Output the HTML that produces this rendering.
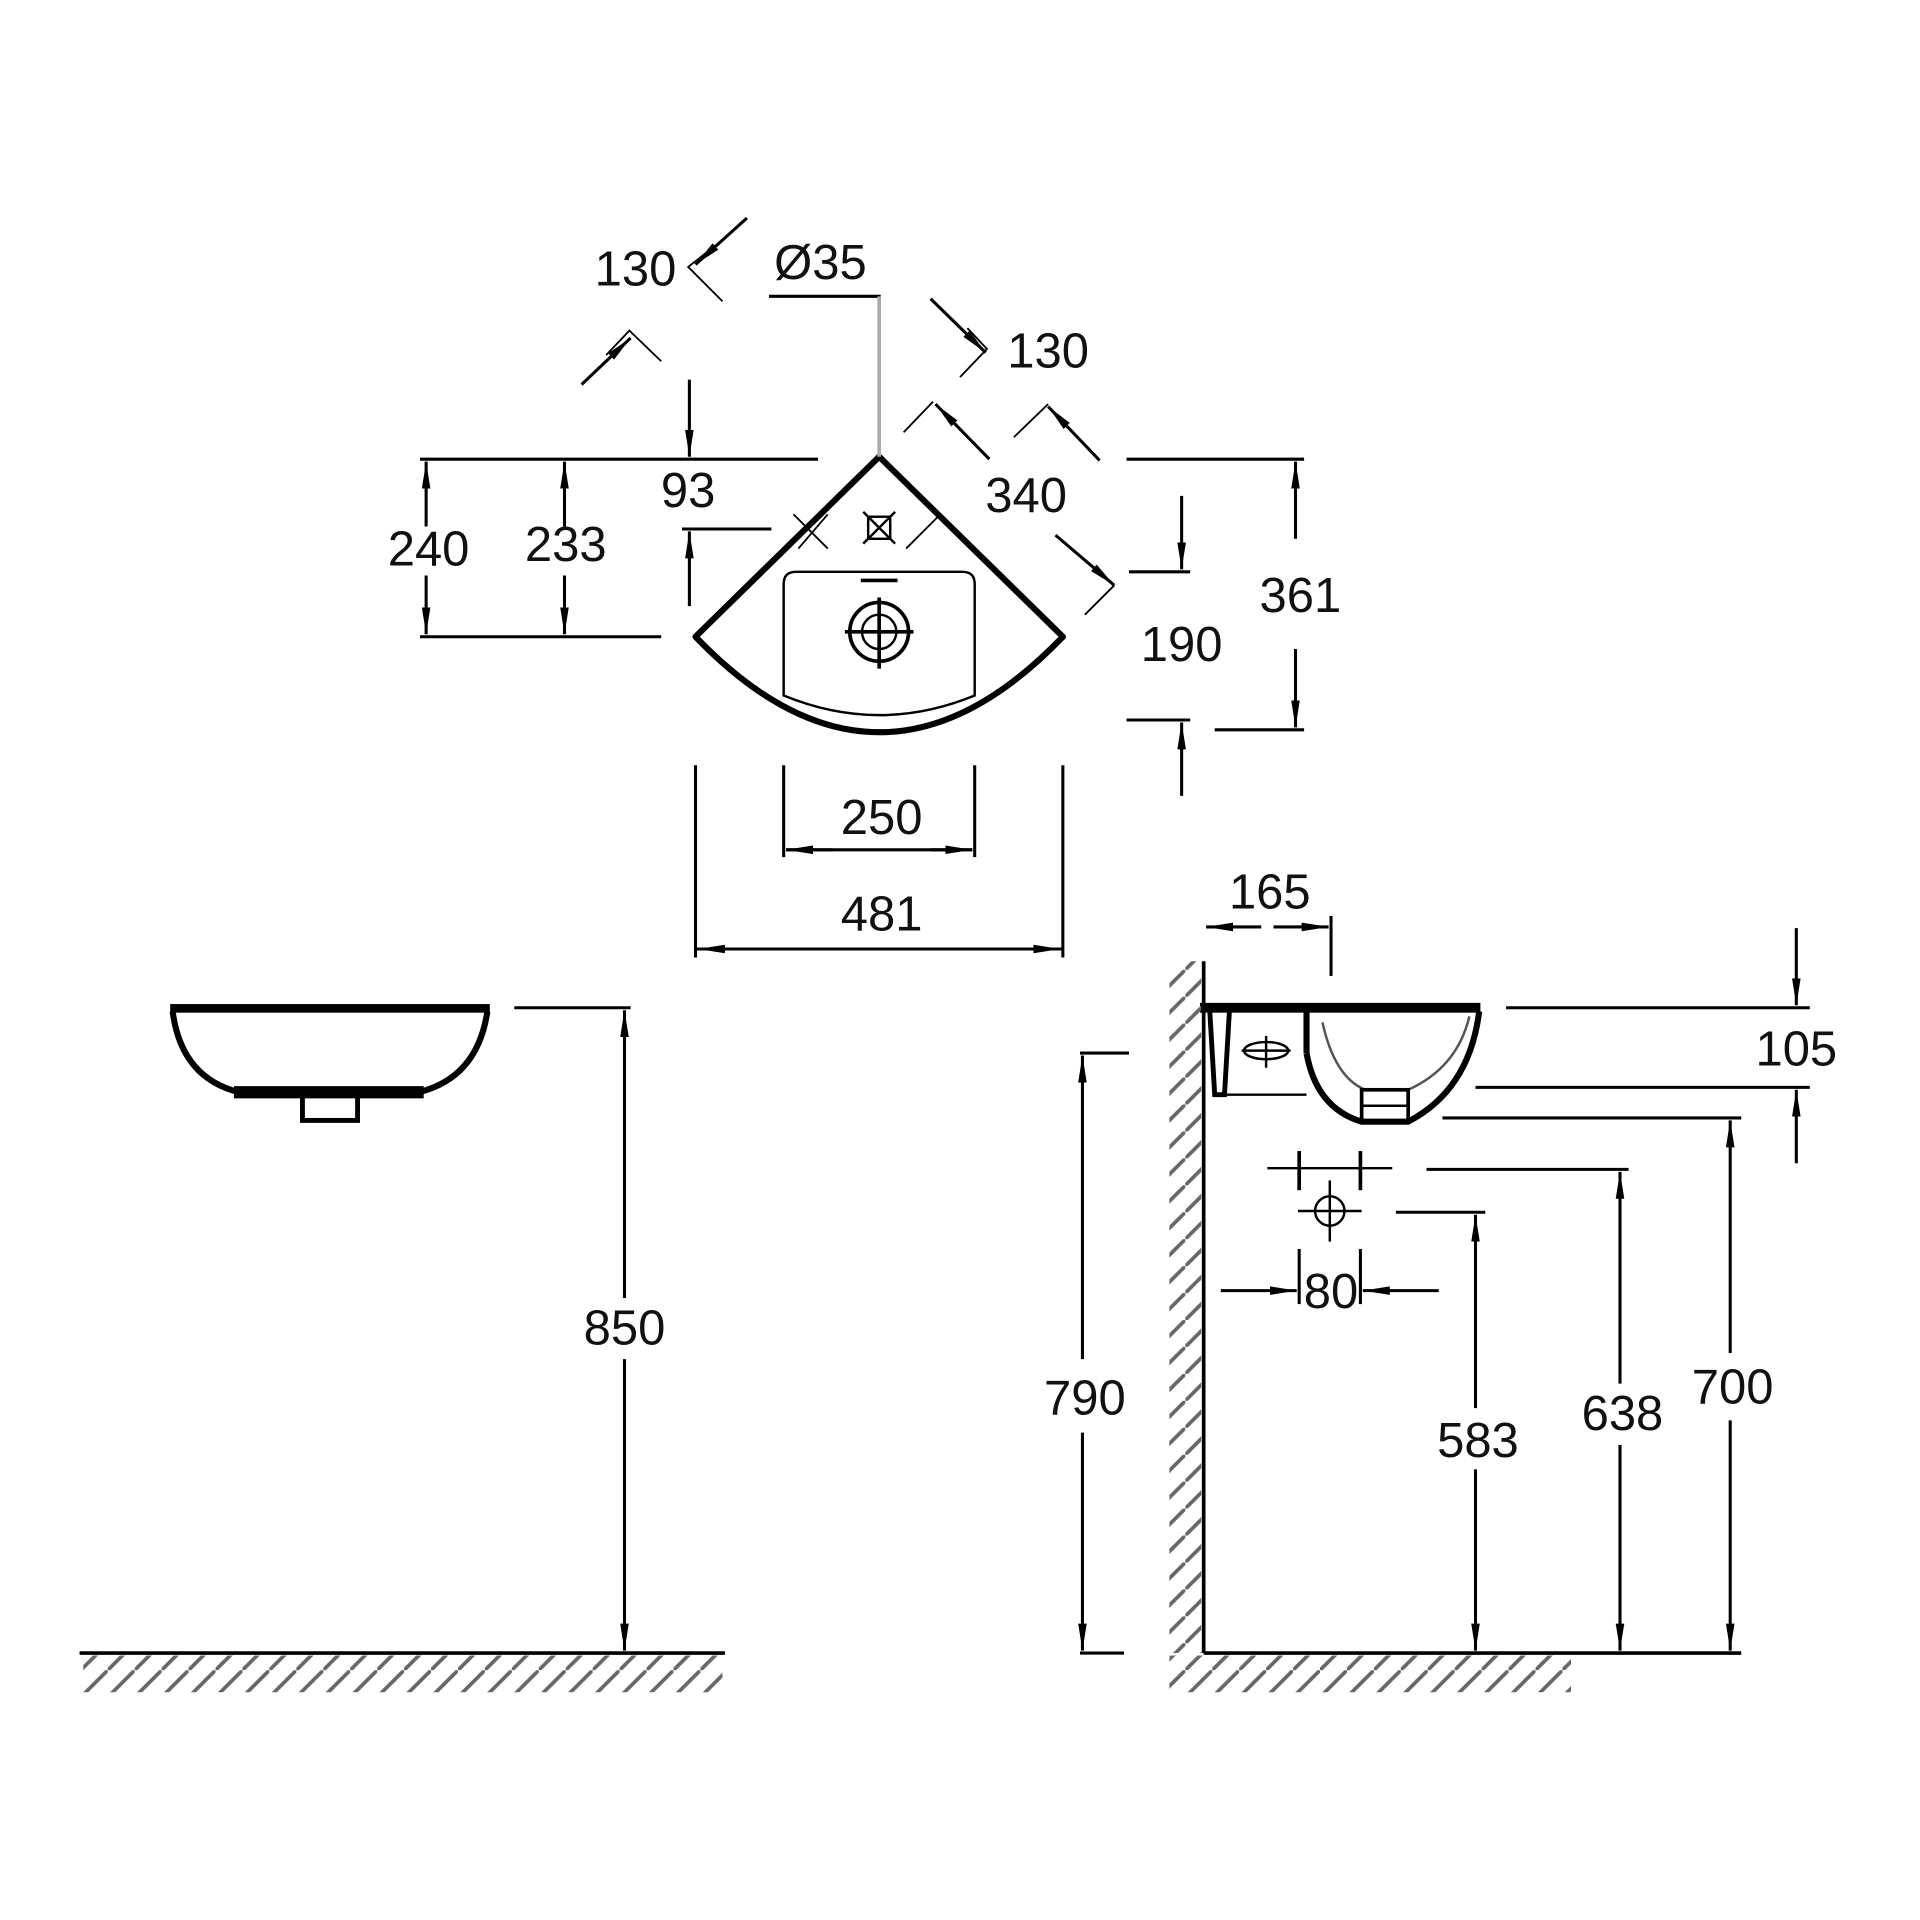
<!DOCTYPE html>
<html><head><meta charset="utf-8"><style>
html,body{margin:0;padding:0;background:#fff;}
svg{display:block;}
text{font-family:"Liberation Sans",sans-serif;font-size:40px;fill:#111;text-anchor:middle;}
</style></head><body>
<svg width="1920" height="1920" viewBox="0 0 1568 1568" xmlns="http://www.w3.org/2000/svg">
<defs>
<marker id="a" viewBox="0 0 22 10" refX="22" refY="5" markerWidth="22" markerHeight="10" orient="auto" markerUnits="userSpaceOnUse">
<path d="M0,1.5 L22,5 L0,8.5 z" fill="#000"/></marker>
<pattern id="h" width="22" height="22" patternUnits="userSpaceOnUse">
<line x1="0" y1="22" x2="22" y2="0" stroke="#666" stroke-width="3"/></pattern>
</defs>
<g stroke="#000" stroke-width="2.5" fill="none">
<!-- top view basin -->
<path d="M718,373 L568,520 Q718,676 868,520 Z" stroke-width="5" stroke-linejoin="round"/>
<path d="M650,467 H786 Q796,467 796,477 V568 Q718,600 640,568 V477 Q640,467 650,467 Z" stroke-width="2"/>
<line x1="703" y1="474" x2="733" y2="474" stroke-width="3"/>
<circle cx="718" cy="516" r="24" stroke-width="3"/>
<circle cx="718" cy="516" r="14" stroke-width="2"/>
<line x1="690" y1="516" x2="746" y2="516" stroke-width="3"/>
<line x1="718" y1="488" x2="718" y2="546" stroke-width="3"/>
<rect x="709" y="422" width="18" height="18" stroke-width="2"/>
<path d="M705,418 L731,444 M731,418 L705,444" stroke-width="2"/>
<!-- Ø35 leader -->
<polyline points="628,242 718,242 718,373" stroke-width="2.5"/>
<line x1="718" y1="242" x2="718" y2="373" stroke="#aaa" stroke-width="3"/>
<!-- 240/233 -->
<line x1="343" y1="375" x2="668" y2="375"/>
<line x1="343" y1="520" x2="540" y2="520"/>
<line x1="348" y1="430" x2="348" y2="377" marker-end="url(#a)"/>
<line x1="348" y1="470" x2="348" y2="518" marker-end="url(#a)"/>
<line x1="461" y1="430" x2="461" y2="377" marker-end="url(#a)"/>
<line x1="461" y1="470" x2="461" y2="518" marker-end="url(#a)"/>
<!-- 93 -->
<line x1="563" y1="310" x2="563" y2="373" marker-end="url(#a)"/>
<line x1="557" y1="432" x2="630" y2="432"/>
<line x1="563" y1="495" x2="563" y2="434" marker-end="url(#a)"/>
<path d="M648,420 L676,448 M768,420 L740,448 M652,448 L676,420" stroke-width="1.5"/>
<!-- 130 left -->
<line x1="610" y1="178" x2="568" y2="216" marker-end="url(#a)"/>
<path d="M585,200 L562,218 L590,246" stroke-width="1.5"/>
<line x1="475" y1="314" x2="515" y2="276" marker-end="url(#a)"/>
<path d="M495,290 L514,270 L540,295" stroke-width="1.5"/>
<!-- 130 right -->
<line x1="760" y1="244" x2="805" y2="288" marker-end="url(#a)"/>
<path d="M790,268 L806,285 L784,308" stroke-width="1.5"/>
<!-- 340 -->
<line x1="738" y1="353" x2="762" y2="328" stroke-width="1.5"/>
<line x1="808" y1="375" x2="764" y2="330" marker-end="url(#a)"/>
<line x1="828" y1="357" x2="856" y2="330" stroke-width="1.5"/>
<line x1="898" y1="376" x2="856" y2="332" marker-end="url(#a)"/>
<line x1="862" y1="437" x2="910" y2="478" marker-end="url(#a)"/>
<line x1="910" y1="478" x2="886" y2="502" stroke-width="1.5"/>
<!-- 190 / 361 -->
<line x1="920" y1="375" x2="1065" y2="375"/>
<line x1="992" y1="596" x2="1065" y2="596"/>
<line x1="1058" y1="440" x2="1058" y2="377" marker-end="url(#a)"/>
<line x1="1058" y1="530" x2="1058" y2="594" marker-end="url(#a)"/>
<line x1="922" y1="467" x2="972" y2="467"/>
<line x1="920" y1="588" x2="972" y2="588"/>
<line x1="965" y1="405" x2="965" y2="465" marker-end="url(#a)"/>
<line x1="965" y1="650" x2="965" y2="590" marker-end="url(#a)"/>
<!-- 250 / 481 -->
<line x1="640" y1="625" x2="640" y2="700"/>
<line x1="796" y1="625" x2="796" y2="700"/>
<line x1="680" y1="694" x2="642" y2="694" marker-end="url(#a)"/>
<line x1="760" y1="694" x2="794" y2="694" marker-end="url(#a)"/>
<line x1="642" y1="694" x2="794" y2="694"/>
<line x1="568" y1="625" x2="568" y2="782"/>
<line x1="868" y1="625" x2="868" y2="782"/>
<line x1="568" y1="775" x2="868" y2="775"/>
<line x1="620" y1="775" x2="570" y2="775" marker-end="url(#a)"/>
<line x1="820" y1="775" x2="866" y2="775" marker-end="url(#a)"/>
<!-- front view -->
<rect x="139" y="820" width="261" height="7" fill="#000" stroke="none"/>
<path d="M141,826 Q148,880 195,892 M398,826 Q390,880 342,892" stroke-width="5"/>
<rect x="191" y="887" width="155" height="10" fill="#000" stroke="none"/>
<rect x="247" y="893" width="45" height="22" stroke-width="4"/>
<line x1="420" y1="823" x2="515" y2="823"/>
<line x1="510" y1="1060" x2="510" y2="825" marker-end="url(#a)"/>
<line x1="510" y1="1110" x2="510" y2="1348" marker-end="url(#a)"/>
<line x1="65" y1="1350" x2="592" y2="1350" stroke-width="3"/>
<!-- side view -->
<line x1="983" y1="785" x2="983" y2="1350" stroke-width="3"/>
<line x1="983" y1="1350" x2="1422" y2="1350" stroke-width="3"/>
<rect x="980" y="819" width="229" height="8" fill="#000" stroke="none"/>
<path d="M988,826 L992,894 L1000,894 L1004,826" stroke-width="4"/>
<line x1="1000" y1="894" x2="1067" y2="894" stroke-width="2"/>
<line x1="1067" y1="826" x2="1067" y2="860" stroke-width="5"/>
<path d="M1067,860 Q1075,905 1112,916 L1150,916 Q1200,890 1208,826" stroke-width="5"/>
<path d="M1080,835 Q1090,880 1115,890 L1150,890 Q1190,872 1200,830" stroke-width="2" stroke="#555"/>
<rect x="1112" y="890" width="38" height="26" stroke-width="3"/>
<line x1="1112" y1="903" x2="1150" y2="903" stroke-width="2"/>
<ellipse cx="1034" cy="858" rx="18" ry="7" stroke-width="2"/>
<line x1="1014" y1="858" x2="1054" y2="858" stroke-width="2"/>
<line x1="1034" y1="846" x2="1034" y2="872" stroke-width="2"/>
<!-- tap holes -->
<line x1="1035" y1="954" x2="1137" y2="954" stroke-width="2"/>
<line x1="1061" y1="940" x2="1061" y2="972" stroke-width="3"/>
<line x1="1111" y1="940" x2="1111" y2="972" stroke-width="3"/>
<circle cx="1086" cy="989" r="12" stroke-width="2"/>
<line x1="1060" y1="989" x2="1112" y2="989" stroke-width="2"/>
<line x1="1086" y1="964" x2="1086" y2="1014" stroke-width="2"/>
<!-- 80 -->
<line x1="1061" y1="1020" x2="1061" y2="1065"/>
<line x1="1111" y1="1020" x2="1111" y2="1065"/>
<line x1="997" y1="1054" x2="1059" y2="1054" marker-end="url(#a)"/>
<line x1="1175" y1="1054" x2="1113" y2="1054" marker-end="url(#a)"/>
<!-- 165 -->
<line x1="1087" y1="748" x2="1087" y2="797"/>
<line x1="1030" y1="757" x2="985" y2="757" marker-end="url(#a)"/>
<line x1="1040" y1="757" x2="1085" y2="757" marker-end="url(#a)"/>
<!-- 105 -->
<line x1="1230" y1="823" x2="1478" y2="823"/>
<line x1="1205" y1="888" x2="1478" y2="888"/>
<line x1="1467" y1="758" x2="1467" y2="821" marker-end="url(#a)"/>
<line x1="1467" y1="950" x2="1467" y2="890" marker-end="url(#a)"/>
<!-- 790 -->
<line x1="882" y1="860" x2="922" y2="860"/>
<line x1="882" y1="1350" x2="918" y2="1350"/>
<line x1="884" y1="1110" x2="884" y2="862" marker-end="url(#a)"/>
<line x1="884" y1="1170" x2="884" y2="1348" marker-end="url(#a)"/>
<!-- 583 -->
<line x1="1140" y1="990" x2="1213" y2="990"/>
<line x1="1205" y1="1150" x2="1205" y2="992" marker-end="url(#a)"/>
<line x1="1205" y1="1200" x2="1205" y2="1348" marker-end="url(#a)"/>
<!-- 638 -->
<line x1="1165" y1="955" x2="1330" y2="955"/>
<line x1="1323" y1="1130" x2="1323" y2="957" marker-end="url(#a)"/>
<line x1="1323" y1="1180" x2="1323" y2="1348" marker-end="url(#a)"/>
<!-- 700 -->
<line x1="1178" y1="913" x2="1422" y2="913"/>
<line x1="1413" y1="1105" x2="1413" y2="915" marker-end="url(#a)"/>
<line x1="1413" y1="1160" x2="1413" y2="1348" marker-end="url(#a)"/>
</g>
<rect x="68" y="1352" width="522" height="30" fill="url(#h)"/>
<rect x="955" y="785" width="26" height="565" fill="url(#h)"/>
<rect x="955" y="1352" width="328" height="30" fill="url(#h)"/>
<text x="519" y="233">130</text>
<text x="670" y="228">Ø35</text>
<text x="856" y="300">130</text>
<text x="562" y="414">93</text>
<text x="838" y="418">340</text>
<text x="350" y="462">240</text>
<text x="462" y="458">233</text>
<text x="1062" y="500">361</text>
<text x="965" y="540">190</text>
<text x="720" y="681">250</text>
<text x="720" y="760">481</text>
<text x="1037" y="742">165</text>
<text x="1467" y="870">105</text>
<text x="510" y="1098">850</text>
<text x="1087" y="1068">80</text>
<text x="886" y="1155">790</text>
<text x="1415" y="1146">700</text>
<text x="1325" y="1168">638</text>
<text x="1207" y="1190">583</text>
</svg>
</body></html>
